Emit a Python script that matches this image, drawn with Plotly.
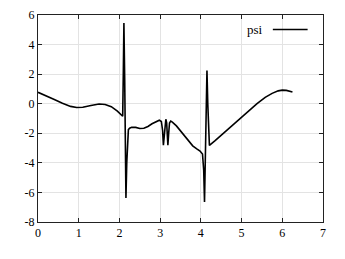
import plotly.graph_objects as go

# x values (radians) and psi values
x_vals = [0.00, 0.20, 0.40, 0.60, 0.80, 0.95, 1.10, 1.30, 1.50, 1.65, 1.80, 1.95, 2.05, 2.08,
          2.095, 2.11, 2.13, 2.145, 2.16, 2.18, 2.20, 2.22, 2.25, 2.30, 2.40, 2.50, 2.60, 2.70,
          2.80, 2.90, 2.98, 3.03, 3.06, 3.08, 3.10, 3.12, 3.14, 3.16, 3.18, 3.19, 3.21, 3.23,
          3.26, 3.30, 3.40, 3.50, 3.60, 3.70, 3.80, 3.90, 3.98, 4.04, 4.07, 4.09, 4.11, 4.13,
          4.15, 4.17, 4.19, 4.21, 4.35, 4.60, 4.80, 5.00, 5.20, 5.38, 5.58, 5.75, 5.90, 6.00,
          6.10, 6.25]
psi_vals = [0.77, 0.55, 0.28, 0.03, -0.18, -0.26, -0.24, -0.12, -0.02, -0.05, -0.20, -0.50, -0.80, -0.85,
            2.00, 5.46, 1.50, -3.00, -6.38, -4.00, -2.20, -1.75, -1.66, -1.60, -1.60, -1.68, -1.66, -1.54,
            -1.36, -1.20, -1.12, -1.20, -1.80, -2.80, -2.00, -1.20, -1.05, -1.30, -2.20, -2.80, -2.00, -1.30,
            -1.18, -1.25, -1.50, -1.85, -2.20, -2.55, -2.85, -3.05, -3.20, -3.40, -4.50, -6.65, -4.00, 0.00,
            2.25, 0.00, -2.30, -2.82, -2.50, -1.89, -1.40, -0.92, -0.42, 0.00, 0.43, 0.70, 0.87, 0.92,
            0.90, 0.79]

x_ticks = [0, 1, 2, 3, 4, 5, 6, 7]
y_ticks = [6, 4, 2, 0, -2, -4, -6, -8]
y_tick_text = ["6", "4", "2", "0", "-2", "-4", "-6", "-8"]

font_family = "Liberation Serif"

fig = go.Figure()
fig.add_trace(go.Scatter(x=x_vals, y=psi_vals, mode="lines", name="psi",
                         line=dict(color="black", width=1.6), showlegend=False))

axis_common = dict(showline=True, linecolor="#222", linewidth=1, mirror="ticks",
                   ticks="inside", ticklen=4, tickcolor="#222", tickwidth=1,
                   showgrid=True, gridcolor="#e3e3e3", gridwidth=1, zeroline=False,
                   automargin=False,
                   tickfont=dict(family=font_family, size=12, color="black"))

fig.update_xaxes(range=[0, 7], tickvals=x_ticks, ticktext=[str(v) for v in x_ticks], **axis_common)
fig.update_yaxes(range=[-8, 6], tickvals=y_ticks, ticktext=y_tick_text, **axis_common)

# gnuplot-style legend: label left of the line sample
fig.add_annotation(x=0.797, y=0.93, xref="paper", yref="paper", text="psi", showarrow=False,
                   xanchor="right", yanchor="middle",
                   font=dict(family=font_family, size=13, color="black"))
fig.add_shape(type="line", xref="paper", yref="paper", x0=0.824, x1=0.946, y0=0.93, y1=0.93,
              line=dict(color="black", width=1.6))

fig.update_layout(width=337, height=251, margin=dict(l=30, r=22, t=7, b=37),
                  paper_bgcolor="white", plot_bgcolor="white",
                  font=dict(family=font_family, size=12, color="black"))

fig.write_html("out.html")
